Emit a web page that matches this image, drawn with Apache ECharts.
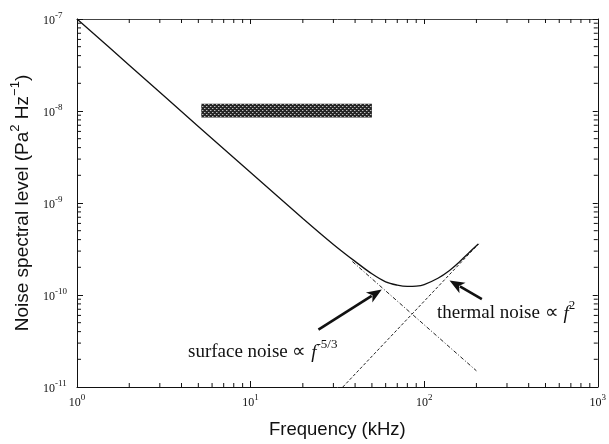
<!DOCTYPE html>
<html><head><meta charset="utf-8">
<script src="https://cdn.jsdelivr.net/npm/echarts@6/dist/echarts.min.js"></script>
<style>html,body{margin:0;padding:0;background:#fff}#c{width:609px;height:444px}</style>
</head><body><div id="c"></div>
<script>
// ---- data ----
const freq = [1, 2, 5, 10, 20, 30, 40, 50, 60, 70, 80, 90, 100, 120, 140, 160, 180, 205];
const totalNoise = [1e-7, 3.15e-8, 6.8e-9, 2.15e-9, 6.8e-10, 3.55e-10, 2.32e-10, 1.7e-10, 1.39e-10, 1.28e-10, 1.24e-10, 1.25e-10, 1.3e-10, 1.52e-10, 1.85e-10, 2.3e-10, 2.85e-10, 3.58e-10];
const surfaceFreq = [38.6, 200];
const surfaceNoise = [2.31e-10, 1.5e-11];
const thermalFreq = [34, 206];
const thermalNoise = [1e-11, 3.6e-10];
const bandFreq = [5.2, 50];
const bandLevel = [8.5e-9, 1.2e-8];
const surfaceArrow = [24.6, 4.2e-11, 57, 1.15e-10];
const thermalArrow = [215, 9.0e-11, 140, 1.44e-10];
const xRange = [1, 1000];
const yRange = [1e-11, 1e-7];
const minorMult = [2, 3, 4, 5, 6, 7, 8, 9];

const SERIF = "'Liberation Serif','Times New Roman',serif";
const SANS = "'Liberation Sans',Arial,Helvetica,sans-serif";

function decadeMinors(lo, hi) {
  const out = [];
  for (let e = Math.round(Math.log10(lo)); e < Math.round(Math.log10(hi)); e++) {
    minorMult.forEach(m => out.push(m * Math.pow(10, e)));
  }
  return out;
}
const xMinor = decadeMinors(xRange[0], xRange[1]);
const yMinor = decadeMinors(yRange[0], yRange[1]);

function powLabel(v) {
  const e = Math.round(Math.log10(v));
  return '{b|10}{s|' + (e < 0 ? '-' + (-e) : e) + '}';
}
const tickRich = {
  b: { fontFamily: SERIF, fontSize: 12, color: '#111', verticalAlign: 'bottom', lineHeight: 16 },
  s: { fontFamily: SERIF, fontSize: 9, color: '#111', verticalAlign: 'top', lineHeight: 16 }
};

// hatch pattern
const pc = document.createElement('canvas');
pc.width = 4; pc.height = 4;
const pctx = pc.getContext('2d');
pctx.fillStyle = '#262626'; pctx.fillRect(0, 0, 4, 4);
pctx.fillStyle = '#bdbdbd';
pctx.fillRect(0, 0, 1, 1); pctx.fillRect(2, 2, 1, 1);
pctx.fillStyle = '#6a6a6a';
pctx.fillRect(1, 0, 1, 1); pctx.fillRect(3, 2, 1, 1);

const chart = echarts.init(document.getElementById('c'), null, { renderer: 'canvas' });

function arrowItem(params, api) {
  const p1 = api.coord([api.value(0), api.value(1)]);
  const p2 = api.coord([api.value(2), api.value(3)]);
  const dx = p2[0] - p1[0], dy = p2[1] - p1[1];
  const L = Math.sqrt(dx * dx + dy * dy), ux = dx / L, uy = dy / L;
  const hl = 15, hw = 6;
  const bx = p2[0] - ux * hl, by = p2[1] - uy * hl;
  return {
    type: 'group', children: [
      { type: 'line', shape: { x1: p1[0], y1: p1[1], x2: bx + ux * 3, y2: by + uy * 3 }, style: { stroke: '#111', lineWidth: 2.6 } },
      { type: 'polygon', shape: { points: [[p2[0], p2[1]], [bx - uy * hw, by + ux * hw], [bx + ux * 4, by + uy * 4], [bx + uy * hw, by - ux * hw]] }, style: { fill: '#111' } }
    ]
  };
}

const annRich = {
  a: { fontFamily: SERIF, fontSize: 19, fill: '#111', verticalAlign: 'bottom', lineHeight: 24 },
  i: { fontFamily: SERIF, fontSize: 19, fontStyle: 'italic', fill: '#111', verticalAlign: 'bottom', lineHeight: 24 },
  s: { fontFamily: SERIF, fontSize: 13, fill: '#111', verticalAlign: 'top', lineHeight: 24 }
};

const option = {
  animation: false,
  backgroundColor: '#fff',
  grid: { left: 77, right: 8, top: 19, bottom: 50, containLabel: false },
  xAxis: [{
    type: 'log', logBase: 10, min: xRange[0], max: xRange[1],
    name: 'Frequency (kHz)', nameLocation: 'middle', nameGap: 33,
    nameTextStyle: { fontFamily: SANS, fontSize: 18.5, color: '#111' },
    axisLine: { show: true, lineStyle: { color: '#111', width: 1 } },
    axisTick: { show: true, inside: true, length: 6, lineStyle: { color: '#111' } },
    axisLabel: { formatter: powLabel, rich: tickRich, margin: 6 },
    splitLine: { show: false }
  }, {
    type: 'log', logBase: 10, min: xRange[0], max: xRange[1], position: 'top',
    axisLine: { show: true, lineStyle: { color: '#444', width: 1 } },
    axisTick: { show: true, inside: true, length: 5, lineStyle: { color: '#111' } },
    axisLabel: { show: false }, splitLine: { show: false }
  }],
  yAxis: [{
    type: 'log', logBase: 10, min: yRange[0], max: yRange[1],
    name: '{a|Noise spectral level (Pa}{s|2}{a| Hz}{s|\u22121}{a|)}',
    nameLocation: 'middle', nameGap: 44, nameRotate: 90,
    nameTextStyle: {
      rich: {
        a: { fontFamily: SANS, fontSize: 19, color: '#111', verticalAlign: 'bottom', lineHeight: 23 },
        s: { fontFamily: SANS, fontSize: 13, color: '#111', verticalAlign: 'top', lineHeight: 23 }
      }
    },
    axisLine: { show: true, lineStyle: { color: '#111', width: 1 } },
    axisTick: { show: true, inside: true, length: 6, lineStyle: { color: '#111' } },
    axisLabel: { formatter: powLabel, rich: tickRich, margin: 34, align: 'left' },
    splitLine: { show: false }
  }, {
    type: 'log', logBase: 10, min: yRange[0], max: yRange[1], position: 'right',
    axisLine: { show: true, lineStyle: { color: '#111', width: 1 } },
    axisTick: { show: true, inside: true, length: 5, lineStyle: { color: '#111' } },
    axisLabel: { show: false }, splitLine: { show: false }
  }],
  series: [
    {
      type: 'line', name: 'total', data: freq.map((f, i) => [f, totalNoise[i]]),
      showSymbol: false, smooth: 0.35, lineStyle: { color: '#111', width: 1.3 }, z: 5
    },
    {
      type: 'line', name: 'surface', data: surfaceFreq.map((f, i) => [f, surfaceNoise[i]]),
      showSymbol: false, lineStyle: { color: '#222', width: 1, type: [4, 2, 1, 2] }
    },
    {
      type: 'line', name: 'thermal', data: thermalFreq.map((f, i) => [f, thermalNoise[i]]),
      showSymbol: false, lineStyle: { color: '#222', width: 1, type: [3, 2] }
    },
    {
      type: 'custom', name: 'band', data: [[bandFreq[0], bandLevel[1], bandFreq[1], bandLevel[0]]],
      renderItem(params, api) {
        const a = api.coord([api.value(0), api.value(1)]);
        const b = api.coord([api.value(2), api.value(3)]);
        return { type: 'rect', shape: { x: a[0], y: a[1], width: b[0] - a[0], height: b[1] - a[1] },
          style: { fill: { image: pc, repeat: 'repeat' } } };
      }
    },
    {
      type: 'custom', name: 'arrows', data: [surfaceArrow, thermalArrow], renderItem: arrowItem, z: 6
    },
    {
      type: 'custom', name: 'xminor', data: xMinor.map(v => [v, yRange[0]]),
      renderItem(params, api) {
        const v = api.value(0);
        const b = api.coord([v, yRange[0]]), t = api.coord([v, yRange[1]]);
        return { type: 'group', children: [
          { type: 'line', shape: { x1: b[0], y1: b[1], x2: b[0], y2: b[1] - 4 }, style: { stroke: '#111', lineWidth: 1 } },
          { type: 'line', shape: { x1: t[0], y1: t[1], x2: t[0], y2: t[1] + 4 }, style: { stroke: '#111', lineWidth: 1 } }
        ] };
      }
    },
    {
      type: 'custom', name: 'yminor', data: yMinor.map(v => [xRange[0], v]),
      renderItem(params, api) {
        const v = api.value(1);
        const l = api.coord([xRange[0], v]), r = api.coord([xRange[1], v]);
        return { type: 'group', children: [
          { type: 'line', shape: { x1: l[0], y1: l[1], x2: l[0] + 4, y2: l[1] }, style: { stroke: '#111', lineWidth: 1 } },
          { type: 'line', shape: { x1: r[0], y1: r[1], x2: r[0] - 4, y2: r[1] }, style: { stroke: '#111', lineWidth: 1 } }
        ] };
      }
    }
  ],
  graphic: [
    {
      type: 'text', left: 188, top: 338,
      style: { text: '{a|surface noise \u221D }{i|f}{s|-5/3}', rich: annRich }
    },
    {
      type: 'text', left: 437, top: 299,
      style: { text: '{a|thermal noise \u221D }{i|f}{s|2}', rich: annRich }
    }
  ]
};
chart.setOption(option);
</script></body></html>
